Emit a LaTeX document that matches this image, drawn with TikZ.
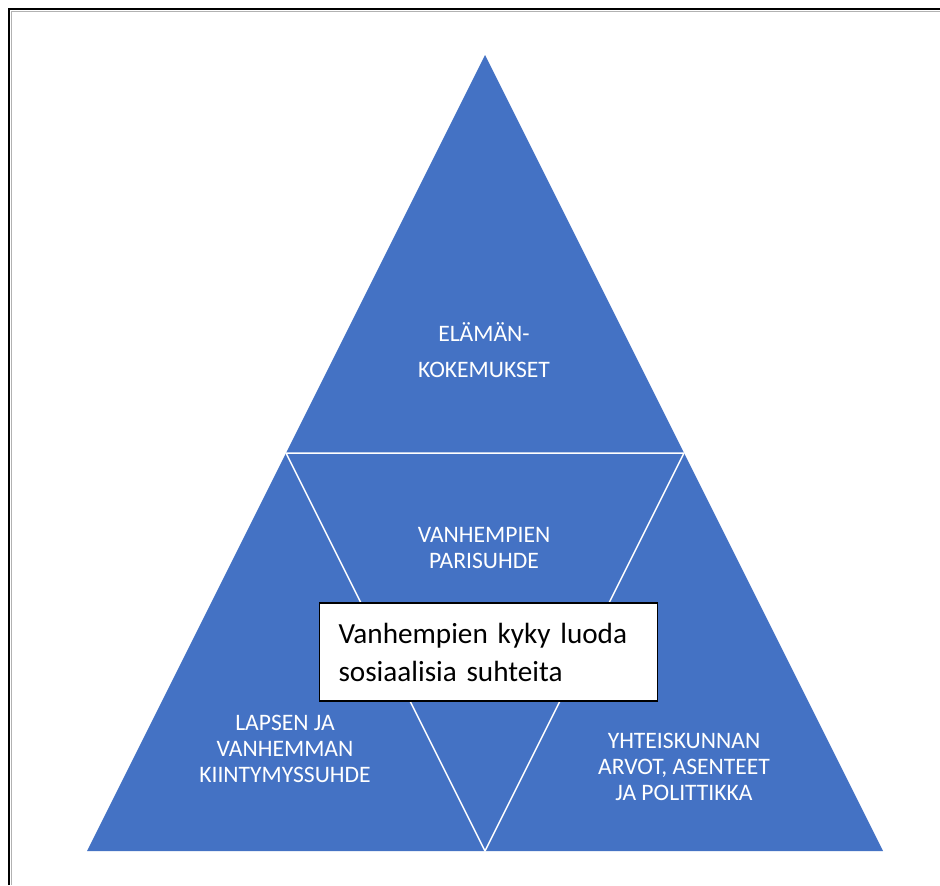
\documentclass[tikz,border=0pt]{standalone}
\usepackage{fontspec}
\setmainfont{Carlito}
\definecolor{pyramid}{HTML}{4472C4}
\tikzset{
  parttext/.style={text=white,align=center,font=\fontsize{11.8}{13}\selectfont},
  boxtext/.style={draw=black,line width=.75pt,fill=white,align=left,text width=150pt,
    inner xsep=9.5pt,minimum height=49pt,font=\fontsize{14.6}{19}\selectfont}
}

\begin{document}
\begin{tikzpicture}[x=.5pt,y=-.5pt]
      \useasboundingbox (0,0) rectangle (940,885);
      \fill[white] (0,0) rectangle (940,885);
      \draw[line width=1pt] (9,885) -- (9,9) -- (940,9);
      \draw[gray!60,line width=.5pt] (11.5,885) -- (11.5,11.5) -- (940,11.5);
      \coordinate (top) at (485,55);
      \coordinate (left) at (87,851);
      \coordinate (right) at (883,851);
      \coordinate (midl) at (286,453);
      \coordinate (midr) at (684,453);
      \coordinate (midb) at (485,851);
      \fill[pyramid] (top) -- (left) -- (right) -- cycle;
      \draw[white,line width=.75pt,line join=round] (midl) -- (midr) -- (midb) -- cycle;
      \node[parttext] (life) at (484,350) {ELÄMÄN-\\[5pt]KOKEMUKSET};
      \node[parttext] (couple) at (484,548) {VANHEMPIEN\\PARISUHDE};
      \node[parttext] (attach) at (285,749) {LAPSEN JA\\VANHEMMAN\\KIINTYMYSSUHDE};
      \node[parttext] (society) at (684,767) {YHTEISKUNNAN\\ARVOT, ASENTEET\\JA POLITTIKKA};
      \node[boxtext] (ability) at (488.5,652) {Vanhempien kyky luoda\\sosiaalisia suhteita};
    \end{tikzpicture}
\end{document}
